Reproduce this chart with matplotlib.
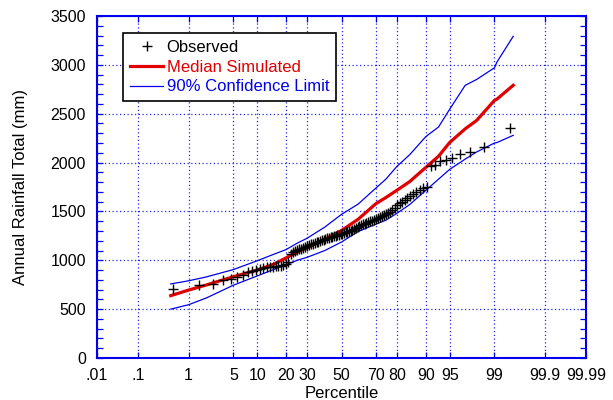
import matplotlib
matplotlib.use('Agg')
import matplotlib.pyplot as plt
import numpy as np
from statistics import NormalDist

plt.rcParams['font.family'] = ['Liberation Sans', 'DejaVu Sans']

BLUE = '#0000ee'
RED = '#e00000'

# observed annual totals (mm), sorted, plotted at Hazen positions
observed = [
    710, 750, 755, 795, 805, 830, 850, 885, 895, 905,
    915, 922, 928, 932, 936, 940, 943, 946, 952, 965,
    985, 1065, 1085, 1094, 1102, 1111, 1120, 1130, 1139, 1148,
    1157, 1164, 1171, 1178, 1185, 1192, 1199, 1206, 1212, 1217,
    1223, 1228, 1234, 1240, 1245, 1251, 1256, 1262, 1267, 1273,
    1279, 1285, 1291, 1297, 1303, 1310, 1322, 1334, 1344, 1352,
    1360, 1368, 1376, 1383, 1391, 1398, 1406, 1414, 1422, 1431,
    1441, 1451, 1462, 1473, 1483, 1496, 1518, 1540, 1565, 1582,
    1599, 1617, 1635, 1655, 1675, 1696, 1715, 1735, 1752, 1965,
    1980, 2015, 2030, 2050, 2088, 2110, 2163, 2350,
]

curve_pct = [0.47, 1, 2, 5, 10, 15, 20, 25, 30, 40, 50, 60, 70, 75,
             80, 85, 90, 93, 95, 97, 98, 99, 99.1, 99.55]
median_sim = [638, 695, 748, 832, 900, 958, 1025, 1085, 1130, 1215, 1305,
              1420, 1580, 1642, 1716, 1805, 1950, 2065, 2205, 2345, 2430,
              2636, 2650, 2791]
upper_cl = [758, 790, 830, 905, 995, 1060, 1110, 1175, 1225, 1340, 1470,
            1575, 1740, 1830, 1960, 2080, 2265, 2364, 2545, 2790, 2850,
            2970, 3030, 3292]
lower_cl = [500, 545, 615, 745, 840, 905, 955, 1000, 1030, 1100, 1187,
            1295, 1370, 1410, 1480, 1570, 1715, 1830, 1930, 2035, 2108,
            2200, 2205, 2279]

xticks = [0.01, 0.1, 1, 5, 10, 20, 30, 50, 70, 80, 90, 95, 99, 99.9, 99.99]
xticklabels = ['.01', '.1', '1', '5', '10', '20', '30', '50', '70', '80',
               '90', '95', '99', '99.9', '99.99']

nd = NormalDist()


def probit(p):
    p = np.clip(np.asarray(p, dtype=float), 1e-7, 100 - 1e-7)
    return np.vectorize(lambda v: nd.inv_cdf(v / 100.0), otypes=[float])(p)


def inv_probit(z):
    z = np.asarray(z, dtype=float)
    return np.vectorize(lambda v: nd.cdf(v) * 100.0, otypes=[float])(z)


n = len(observed)
obs_pct = (np.arange(1, n + 1) - 0.5) / n * 100

fig = plt.figure(figsize=(6.13, 4.0), dpi=100)
ax = fig.add_axes([97 / 613, 42 / 400, 489 / 613, 342 / 400])
ax.set_xscale('function', functions=(probit, inv_probit))

ax.plot(obs_pct, observed, '+', color='black', markersize=7, mew=1.0,
        label='Observed', zorder=4)
ax.plot(curve_pct, median_sim, '-', color=RED, linewidth=2.3,
        label='Median Simulated', zorder=3)
ax.plot(curve_pct, upper_cl, '-', color=BLUE, linewidth=0.9,
        label='90% Confidence Limit', zorder=3)
ax.plot(curve_pct, lower_cl, '-', color=BLUE, linewidth=0.9, zorder=3)

ax.set_xlim(0.01, 99.99)
ax.set_ylim(0, 3500)
ax.set_xticks(xticks)
ax.set_xticklabels(xticklabels)
ax.set_yticks(np.arange(0, 3501, 500))
ax.set_yticks(np.arange(0, 3501, 100), minor=True)
ax.xaxis.set_minor_locator(matplotlib.ticker.NullLocator())

ax.grid(True, which='major', color=BLUE, linestyle=(0, (1, 2)),
        linewidth=0.9, alpha=0.85)
for s in ax.spines.values():
    s.set_color(BLUE)
    s.set_linewidth(1.5)

ax.tick_params(which='both', direction='in', colors=BLUE, labelcolor='black',
               top=True, right=True, labelsize=11.5)
ax.tick_params(which='major', length=4, width=0.9)
ax.tick_params(which='minor', length=4, width=0.9)
ax.tick_params(axis='x', pad=7)
ax.tick_params(axis='y', pad=8)

ax.set_xlabel('Percentile', fontsize=12, labelpad=2)
ax.set_ylabel('Annual Rainfall Total (mm)', fontsize=12, labelpad=16)

leg = ax.legend(loc='upper left', bbox_to_anchor=(0.053, 0.95),
                borderaxespad=0, fancybox=False, framealpha=1,
                edgecolor='black', fontsize=12, numpoints=1,
                handlelength=2.0, handletextpad=0.2, labelspacing=0.28,
                borderpad=0.42)
leg.get_frame().set_linewidth(1.2)
for txt, col in zip(leg.get_texts(), ['black', RED, BLUE]):
    txt.set_color(col)

fig.savefig('out.png', dpi=100)
